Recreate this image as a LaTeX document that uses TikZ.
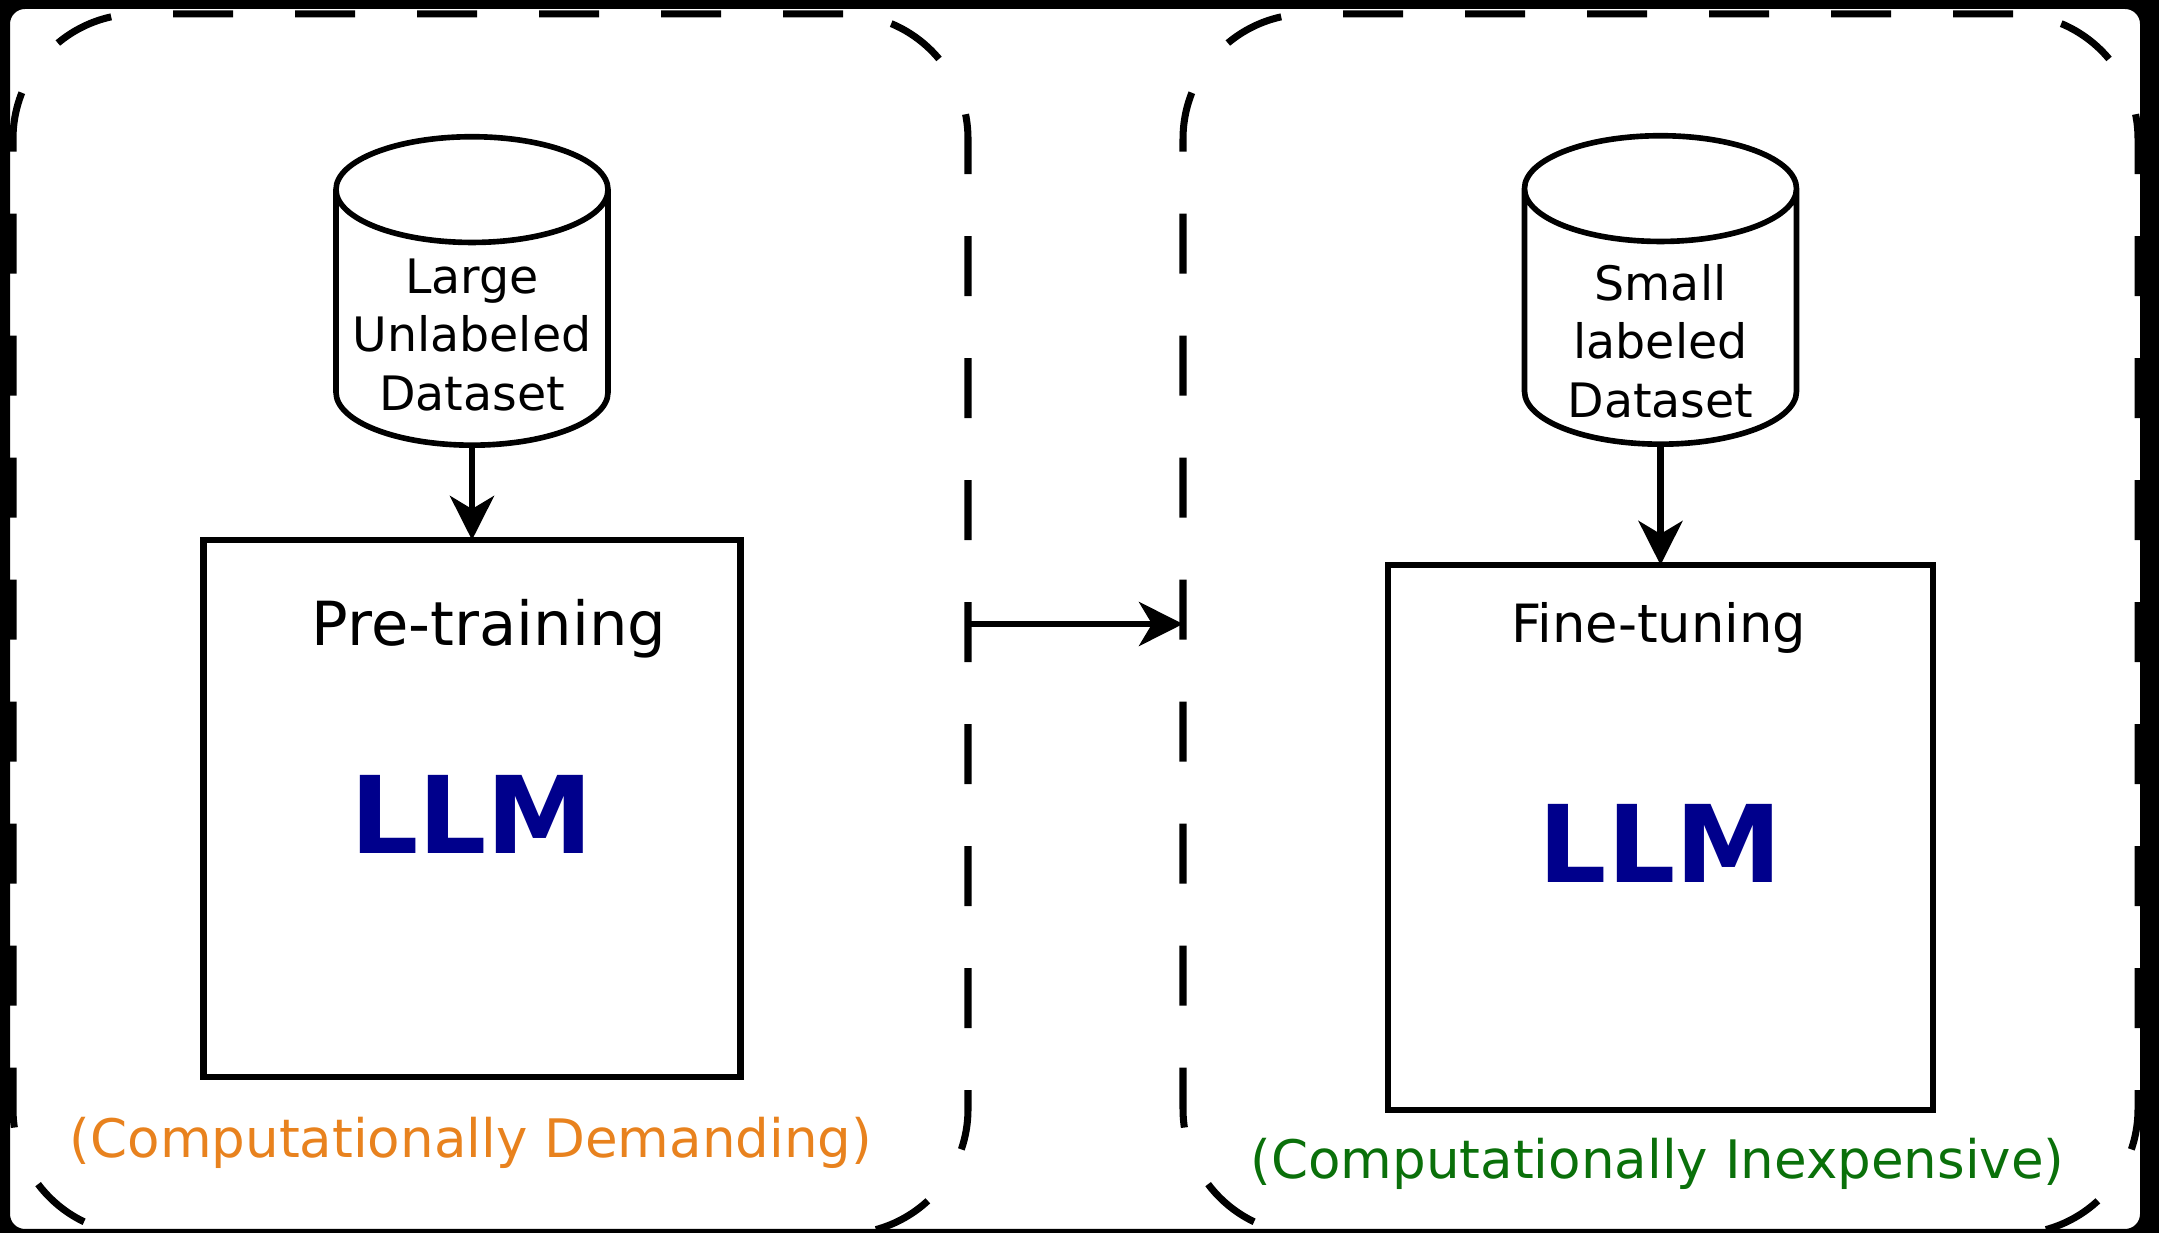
\documentclass[tikz,border=0pt]{standalone}
\usepackage{fontspec}
\setmainfont{DejaVu Sans}
\usetikzlibrary{shapes.geometric,positioning,arrows.meta}
\definecolor{llmblue}{RGB}{0,0,140}
\definecolor{demandorange}{RGB}{232,130,30}
\definecolor{cheapgreen}{RGB}{10,112,10}
% room kept free inside each cylinder, so both get the same shape
\newcommand{\dbroom}{\phantom{Large}\\\phantom{Unlabeled}\\\phantom{Dataset}}
\tikzset{
>={Stealth[length=4.4mm,width=4.4mm,inset=1.3mm]},
flow/.style={->, line width=1.8pt},
stage/.style={draw, dash pattern=on 0.6cm off 0.62cm, line width=2pt, rounded corners=1.25cm, minimum width=9.55cm, minimum height=12.2cm, outer sep=0pt},
dataset/.style={cylinder, shape border rotate=90, draw, line width=1.6pt, aspect=0.43, inner sep=1pt, minimum width=2.72cm, minimum height=3.08cm, align=center, font=\fontsize{13.5}{16.6}\selectfont},
datatext/.style={align=center, inner sep=0pt, font=\fontsize{13.5}{16.6}\selectfont},
model/.style={draw, line width=1.9pt, outer sep=0pt},
llm/.style={font=\fontsize{30.5}{36}\selectfont\bfseries, text=llmblue},
note/.style={font=\fontsize{15.1}{18}\selectfont},
}

\begin{document}
\begin{tikzpicture}
    \useasboundingbox (0,0) rectangle (21.59,12.33);
    \node[stage] (stage1) at (4.905,6.09) {};
    \node[stage, right=2.15cm of stage1] (stage2) {};

    \node[model, minimum size=5.37cm] (pre) at (4.72,4.245) {};
    \node[model, minimum size=5.45cm] (fine) at (16.605,3.955) {};
    \node[dataset, above=0.92cm of pre] (large) {\dbroom};
    \node[dataset, above=1.18cm of fine] (small) {\dbroom};
    \node[datatext] (largetext) at ([yshift=1.13cm]large.south) {Large\\Unlabeled\\Dataset};
    \node[datatext] (smalltext) at ([yshift=1.06cm]small.south) {Small\\labeled\\Dataset};

    \node[font=\fontsize{17.3}{20}\selectfont] (pretitle) at ([xshift=0.17cm,yshift=-0.89cm]pre.north) {Pre-training};
    \node[font=\fontsize{15}{18}\selectfont] (finetitle) at ([xshift=-0.02cm,yshift=-0.63cm]fine.north) {Fine-tuning};
    \node[llm] (prellm) at ([yshift=-0.06cm]pre.center) {LLM};
    \node[llm] (finellm) at ([yshift=-0.06cm]fine.center) {LLM};
    \node[note, text=demandorange] (demand) at ([xshift=-0.01cm,yshift=-0.66cm]pre.south) {(Computationally Demanding)};
    \node[note, text=cheapgreen] (cheap) at ([xshift=-0.03cm,yshift=-0.54cm]fine.south) {(Computationally Inexpensive)};

    \draw[flow] (large) -- (pre);
    \draw[flow] (small) -- (fine);
    \draw[flow] (stage1.east) -- (stage2.west);

    % dark frame round the picture
    \fill[black, even odd rule] (0,0) rectangle (21.59,12.33) {[rounded corners=0.15cm] (0.1,0.04) rectangle (21.40,12.24)};
\end{tikzpicture}
\end{document}
